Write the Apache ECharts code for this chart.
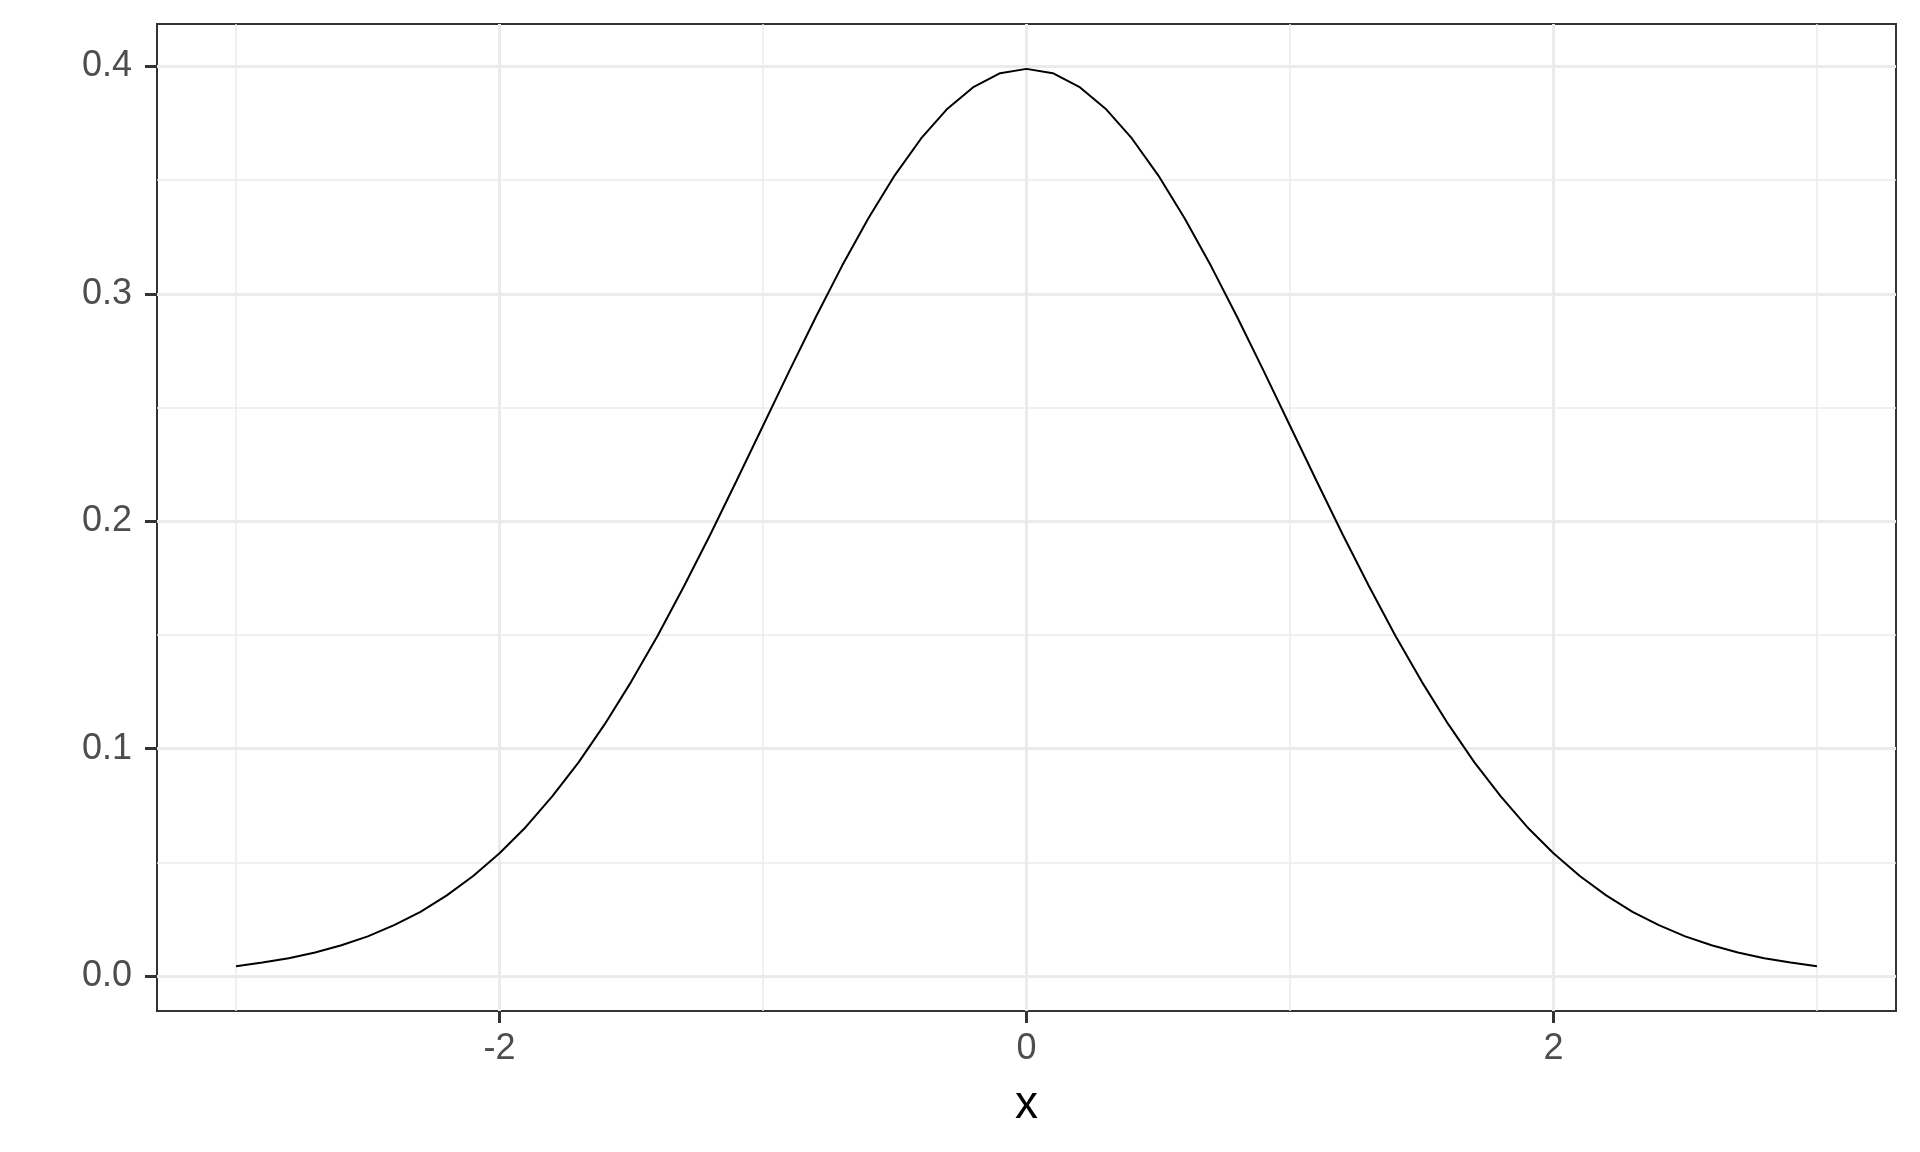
<!DOCTYPE html>
<html>
<head>
<meta charset="utf-8">
<script src="https://cdn.jsdelivr.net/npm/echarts@6/dist/echarts.min.js"></script>
<style>
  html, body { margin: 0; padding: 0; background: #ffffff; }
  #chart { width: 1920px; height: 1152px; }
</style>
</head>
<body>
<div id="chart"></div>
<script>
// Sample positions of the plotted curve and their heights
const xValues = [-3.0, -2.9, -2.8, -2.7, -2.6, -2.5, -2.4, -2.3, -2.2, -2.1,
                 -2.0, -1.9, -1.8, -1.7, -1.6, -1.5, -1.4, -1.3, -1.2, -1.1,
                 -1.0, -0.9, -0.8, -0.7, -0.6, -0.5, -0.4, -0.3, -0.2, -0.1,
                  0.0,  0.1,  0.2,  0.3,  0.4,  0.5,  0.6,  0.7,  0.8,  0.9,
                  1.0,  1.1,  1.2,  1.3,  1.4,  1.5,  1.6,  1.7,  1.8,  1.9,
                  2.0,  2.1,  2.2,  2.3,  2.4,  2.5,  2.6,  2.7,  2.8,  2.9, 3.0];
const yValues = [0.0044, 0.0060, 0.0079, 0.0104, 0.0136, 0.0175, 0.0224, 0.0283, 0.0355, 0.0440,
                 0.0540, 0.0656, 0.0790, 0.0940, 0.1109, 0.1295, 0.1497, 0.1714, 0.1942, 0.2179,
                 0.2420, 0.2661, 0.2897, 0.3123, 0.3332, 0.3521, 0.3683, 0.3814, 0.3910, 0.3970,
                 0.3989, 0.3970, 0.3910, 0.3814, 0.3683, 0.3521, 0.3332, 0.3123, 0.2897, 0.2661,
                 0.2420, 0.2179, 0.1942, 0.1714, 0.1497, 0.1295, 0.1109, 0.0940, 0.0790, 0.0656,
                 0.0540, 0.0440, 0.0355, 0.0283, 0.0224, 0.0175, 0.0136, 0.0104, 0.0079, 0.0060, 0.0044];

const xMajorTicks = [-2, 0, 2];
const xMinorTicks = [-3, -1, 1, 3];
const yMajorTicks = [0, 0.1, 0.2, 0.3, 0.4];
const yMinorTicks = [0.05, 0.15, 0.25, 0.35];
const xTitle = 'x';

// ggplot-style 5% expansion of the data range
const xLo = Math.min(...xValues), xHi = Math.max(...xValues);
const yLo = Math.min(...yValues), yHi = Math.max(...yValues);
const xPad = (xHi - xLo) * 0.05, yPad = (yHi - yLo) * 0.05;
const xMin = xLo - xPad, xMax = xHi + xPad;
const yMin = yLo - yPad, yMax = yHi + yPad;

const FONT = '"Liberation Sans", Arial, sans-serif';
const GRID_COLOR = '#EBEBEB';
const DARK = '#333333';

const chart = echarts.init(document.getElementById('chart'), null, { renderer: 'canvas' });

const option = {
  animation: false,
  backgroundColor: '#ffffff',
  grid: {
    left: 157, right: 24, top: 24, bottom: 141,
    show: true, backgroundColor: '#ffffff',
    borderColor: DARK, borderWidth: 2
  },
  xAxis: [
    {
      type: 'value', min: xMin, max: xMax, position: 'bottom',
      name: xTitle, nameLocation: 'middle', nameGap: 71,
      nameTextStyle: { fontFamily: FONT, fontSize: 46, color: '#000000' },
      axisLine: { show: false, onZero: false },
      axisTick: { show: true, inside: false, length: 12, customValues: xMajorTicks,
                  lineStyle: { color: DARK, width: 3 } },
      axisLabel: { show: true, customValues: xMajorTicks, margin: 20,
                   fontFamily: FONT, fontSize: 36, color: '#4D4D4D',
                   formatter: v => String(v) },
      splitLine: { show: true, lineStyle: { color: GRID_COLOR, width: 3 } }
    },
    {
      type: 'value', min: xMin, max: xMax, position: 'bottom',
      axisLine: { show: false, onZero: false },
      axisTick: { show: false, customValues: xMinorTicks },
      axisLabel: { show: false, customValues: xMinorTicks },
      splitLine: { show: true, lineStyle: { color: GRID_COLOR, width: 1.5 } }
    }
  ],
  yAxis: [
    {
      type: 'value', min: yMin, max: yMax, position: 'left',
      axisLine: { show: false, onZero: false },
      axisTick: { show: true, inside: false, length: 12, customValues: yMajorTicks,
                  lineStyle: { color: DARK, width: 3 } },
      axisLabel: { show: true, customValues: yMajorTicks, margin: 25,
                   fontFamily: FONT, fontSize: 36, color: '#4D4D4D',
                   formatter: v => v.toFixed(1) },
      splitLine: { show: true, lineStyle: { color: GRID_COLOR, width: 3 } }
    },
    {
      type: 'value', min: yMin, max: yMax, position: 'left',
      axisLine: { show: false, onZero: false },
      axisTick: { show: false, customValues: yMinorTicks },
      axisLabel: { show: false, customValues: yMinorTicks },
      splitLine: { show: true, lineStyle: { color: GRID_COLOR, width: 1.5 } }
    }
  ],
  series: [
    {
      type: 'line',
      xAxisIndex: 0, yAxisIndex: 0,
      data: xValues.map((x, i) => [x, yValues[i]]),
      showSymbol: false, symbol: 'none',
      smooth: false,
      lineStyle: { color: '#000000', width: 2 },
      z: 5
    }
  ]
};

chart.setOption(option);
</script>
</body>
</html>
